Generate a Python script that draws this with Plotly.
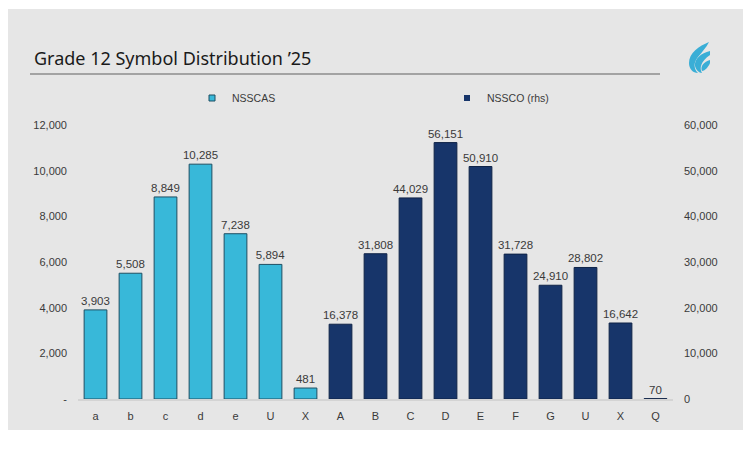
import plotly.graph_objects as go

# ---------------- data ----------------
nsscas_labels = ["a", "b", "c", "d", "e", "U", "X"]
nsscas_values = [3903, 5508, 8849, 10285, 7238, 5894, 481]
nssco_labels = ["A", "B", "C", "D", "E", "F", "G", "U", "X", "Q"]
nssco_values = [16378, 31808, 44029, 56151, 50910, 31728, 24910, 28802, 16642, 70]
left_ticks = [0, 2000, 4000, 6000, 8000, 10000, 12000]
left_ticktext = ["-", "2,000", "4,000", "6,000", "8,000", "10,000", "12,000"]
right_ticks = [0, 10000, 20000, 30000, 40000, 50000, 60000]
right_ticktext = ["0", "10,000", "20,000", "30,000", "40,000", "50,000", "60,000"]

# page has an 8px body margin; figure sized to fit the window
OFF = 8
W, H = 743, 443
ML, MR, MT, MB = 70, 78, 117, 52
PW, PH = W - ML - MR, H - MT - MB

x1 = list(range(len(nsscas_labels)))
x2 = list(range(len(nsscas_labels), len(nsscas_labels) + len(nssco_labels)))
all_labels = nsscas_labels + nssco_labels

C1 = "#38b8d9"
C2 = "#17356a"
TXT = "#3a3a3a"
FONT = "Liberation Sans, Arial, sans-serif"


def px(x):
    # screen x -> paper
    return (x - OFF - ML) / PW


def py(y):
    # screen y -> paper
    return (H - MB - (y - OFF)) / PH


fig = go.Figure()
fig.add_trace(go.Bar(
    x=x1, y=nsscas_values, name="NSSCAS", yaxis="y", width=0.65,
    marker=dict(color=C1, line=dict(color="#1d4f63", width=1)),
    texttemplate="%{y:,}", textposition="outside", cliponaxis=False,
    constraintext="none",
    textfont=dict(size=11.5, color=TXT, family=FONT), showlegend=False,
))
fig.add_trace(go.Bar(
    x=x2, y=nssco_values, name="NSSCO (rhs)", yaxis="y2", width=0.65,
    marker=dict(color=C2, line=dict(color="#0f2347", width=1)),
    texttemplate="%{y:,}", textposition="outside", cliponaxis=False,
    constraintext="none",
    textfont=dict(size=11.5, color=TXT, family=FONT), showlegend=False,
))
# legend entries
fig.add_trace(go.Scatter(x=[None], y=[None], mode="markers", name="NSSCAS",
                         marker=dict(symbol="square", size=6, color=C1,
                                     line=dict(color="#1d4f63", width=1))))
fig.add_trace(go.Scatter(x=[None], y=[None], mode="markers", name="NSSCO (rhs)",
                         marker=dict(symbol="square", size=6, color=C2)))

shapes = []
# cloudy background panel
shapes.append(dict(type="rect", xref="paper", yref="paper", layer="below",
                   x0=px(0), x1=px(748), y0=py(430), y1=py(9),
                   fillcolor="#e6e6e6", line=dict(width=0)))
# title underline
shapes.append(dict(type="line", xref="paper", yref="paper",
                   x0=px(30), x1=px(660), y0=py(74), y1=py(74),
                   line=dict(color="#8c8c8c", width=1.5)))


def path(pts_cmds):
    out = []
    for cmd, pts in pts_cmds:
        coords = " ".join(f"{px(a):.4f},{py(b):.4f}" for a, b in pts)
        out.append(f"{cmd} {coords}")
    return " ".join(out) + " Z"


logo_col = "#3aaed6"
logo_paths = [
    [("M", [(709, 42)]), ("C", [(699, 46), (689, 53), (689, 63)]),
     ("C", [(689, 69), (693, 73), (698, 73)]), ("C", [(694, 69), (693, 63), (698, 57)]),
     ("C", [(702, 52), (706, 48), (709, 42)])],
    [("M", [(710, 51)]), ("C", [(701, 53), (694, 59), (695, 66)]),
     ("C", [(696, 70), (699, 73), (702, 73)]), ("C", [(699, 68), (701, 61), (710, 55)])],
    [("M", [(710, 60)]), ("C", [(704, 62), (700, 66), (702, 71)]),
     ("C", [(705, 71), (709, 66), (710, 63)])],
]
for p in logo_paths:
    shapes.append(dict(type="path", xref="paper", yref="paper", path=path(p),
                       fillcolor=logo_col, line=dict(width=0)))

fig.update_layout(
    width=W, height=H,
    margin=dict(l=ML, r=MR, t=MT, b=MB, pad=0, autoexpand=False),
    paper_bgcolor="white", plot_bgcolor="rgba(0,0,0,0)",
    font=dict(family=FONT, color=TXT, size=11),
    bargap=0.35,
    xaxis=dict(range=[-0.5, len(all_labels) - 0.5], tickmode="array",
               tickvals=x1 + x2, ticktext=all_labels, showgrid=False,
               zeroline=False, showline=True, linecolor="#d4d4d4", linewidth=1.5,
               ticks="", ticklabelstandoff=6, tickfont=dict(size=11, color=TXT)),
    yaxis=dict(range=[0, 12000], tickmode="array", tickvals=left_ticks,
               ticktext=left_ticktext, showgrid=False, zeroline=False,
               showline=False, ticks="", ticklabelstandoff=10,
               tickfont=dict(size=11, color=TXT)),
    yaxis2=dict(range=[0, 60000], tickmode="array", tickvals=right_ticks,
                ticktext=right_ticktext, overlaying="y", side="right",
                showgrid=False, zeroline=False, showline=False, ticks="",
                ticklabelstandoff=10, tickfont=dict(size=11, color=TXT)),
    legend=dict(orientation="h", x=px(192), xanchor="left", y=py(98),
                yanchor="middle", entrywidth=210, entrywidthmode="pixels",
                itemwidth=30, bgcolor="rgba(0,0,0,0)",
                font=dict(size=10.5, color=TXT, family=FONT)),
    shapes=shapes,
    annotations=[dict(text="Grade 12 Symbol Distribution \u201925", xref="paper",
                      yref="paper", x=px(32), y=py(58), xanchor="left",
                      yanchor="middle", showarrow=False,
                      font=dict(size=18, color="#1a1a1a",
                                family="Noto Sans, Lato, sans-serif"))],
)

fig.write_html("out.html")
